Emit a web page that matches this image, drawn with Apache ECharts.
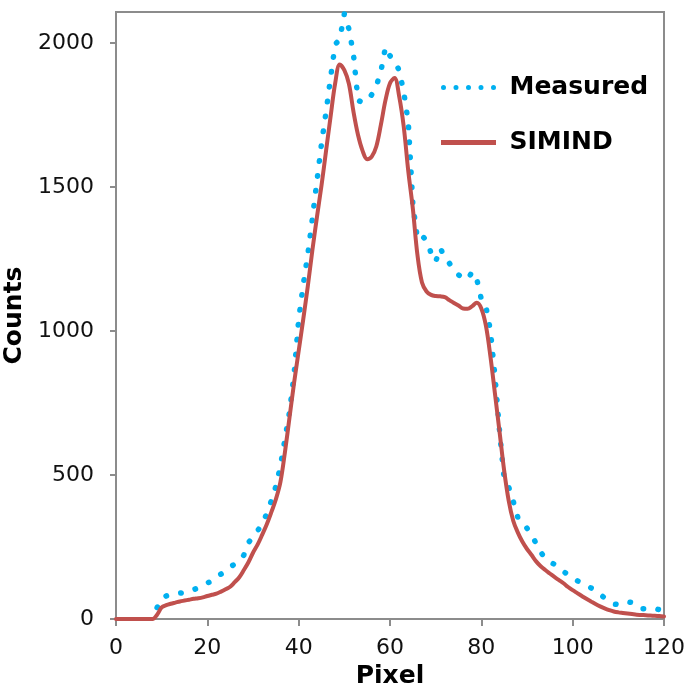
<!DOCTYPE html>
<html>
<head>
<meta charset="utf-8">
<script src="https://cdn.jsdelivr.net/npm/echarts@6/dist/echarts.min.js"></script>
<style>html,body{margin:0;padding:0;background:#fff;}#c{width:688px;height:692px;}</style>
</head>
<body>
<div id="c"></div>
<script>
const pixels = Array.from({length: 121}, (_, i) => i);
const measuredStart = 9;
const measured = [
  40, 70, 80, 85, 88, 90, 91, 95, 102, 108,            // 9-18
  115, 125, 132, 148, 156, 165, 180, 191, 202, 222,    // 19-28
  265, 285, 306, 330, 365, 410, 460, 530, 625, 720,    // 29-38
  850, 1040, 1160, 1265, 1390, 1520, 1650, 1760, 1880, 1995, // 39-48
  2012, 2100, 2048, 1960, 1800, 1793, 1800, 1820, 1850, 1900, // 49-58
  1985, 1955, 1935, 1905, 1830, 1725, 1440, 1320, 1330, 1315, // 59-68
  1270, 1240, 1288, 1255, 1235, 1212, 1195, 1182, 1180, 1205, // 69-78
  1180, 1110, 1085, 1000, 840, 650, 485, 458, 408, 352,  // 79-88
  336, 315, 290, 263, 232, 210, 198, 190, 178, 165,    // 89-98
  153, 140, 133, 124, 118, 108, 100, 86, 73, 62,       // 99-108
  52, 50, 55, 60, 57, 45, 36, 36, 36, 37,              // 109-118
  32, 26                                               // 119-120
];
const simind = [
  0, 0, 0, 0, 0, 0, 0, 0, 0, 15,                       // 0-9
  40, 48, 53, 57, 61, 64, 67, 70, 72, 75,              // 10-19
  80, 84, 88, 95, 103, 112, 128, 145, 170, 197,        // 20-29
  230, 258, 292, 328, 370, 415, 475, 580, 700, 820,    // 30-39
  930, 1040, 1155, 1280, 1395, 1505, 1625, 1745, 1860, 1925, // 40-49
  1905, 1858, 1761, 1680, 1625, 1596, 1605, 1640, 1715, 1800, // 50-59
  1860, 1878, 1815, 1710, 1555, 1425, 1265, 1168, 1137, 1125, // 60-69
  1121, 1120, 1117, 1107, 1097, 1088, 1078, 1077, 1086, 1098, // 70-79
  1078, 1018, 910, 780, 648, 515, 410, 340, 300, 268,  // 80-89
  243, 222, 200, 183, 170, 158, 146, 135, 124, 111,    // 90-99
  100, 90, 80, 70, 61, 52, 44, 37, 31, 26,             // 100-109
  23, 21, 19, 17, 15, 14, 13, 12, 11, 10,              // 110-119
  9                                                    // 120
];
const xTicks = [0, 20, 40, 60, 80, 100, 120];
const yTicks = [0, 500, 1000, 1500, 2000];

const measuredData = measured.map((v, i) => [measuredStart + i, v]);
const simindData = simind.map((v, i) => [pixels[i], v]);

const gray = '#8c8c8c';
const dotsIcon = 'path://M0,3a3,3 0 1,0 6,0a3,3 0 1,0 -6,0z M15,3a3,3 0 1,0 6,0a3,3 0 1,0 -6,0z M30,3a3,3 0 1,0 6,0a3,3 0 1,0 -6,0z M45,3a3,3 0 1,0 6,0a3,3 0 1,0 -6,0z M60,3a3,3 0 1,0 6,0a3,3 0 1,0 -6,0z';
const barIcon = 'path://M0,0h66v6H0z';
const chart = echarts.init(document.getElementById('c'), null, {renderer: 'canvas'});
chart.setOption({
  animation: false,
  backgroundColor: '#ffffff',
  grid: {left: 116, right: 24, top: 12, bottom: 73, containLabel: false, outerBoundsMode: 'none',
         show: true, borderColor: gray, borderWidth: 2},
  legend: {
    orient: 'vertical', left: 436, top: 70, itemWidth: 66, itemHeight: 5, itemGap: 30,
    textStyle: {fontFamily: 'DejaVu Sans', fontWeight: 'bold', fontSize: 25, color: '#000', padding: [0, 0, 0, 3]},
    data: [{name: 'Measured', icon: dotsIcon}, {name: 'SIMIND', icon: barIcon}]
  },
  xAxis: {
    type: 'value', min: 0, max: 120, interval: 20,
    name: 'Pixel', nameLocation: 'middle', nameGap: 42,
    nameTextStyle: {fontFamily: 'DejaVu Sans', fontWeight: 'bold', fontSize: 25, color: '#000'},
    axisLine: {lineStyle: {color: gray, width: 2}},
    axisTick: {show: true, length: 7, lineStyle: {color: gray, width: 2}},
    axisLabel: {fontFamily: 'DejaVu Sans', fontSize: 22, color: '#111', margin: 18, customValues: xTicks},
    splitLine: {show: false}
  },
  yAxis: {
    type: 'value', min: 0, max: 2107, interval: 500,
    name: 'Counts', nameLocation: 'middle', nameGap: 74, nameRotate: 90,
    nameTextStyle: {fontFamily: 'DejaVu Sans', fontWeight: 'bold', fontSize: 25, color: '#000'},
    axisLine: {show: true, lineStyle: {color: gray, width: 2}},
    axisTick: {show: true, length: 6, lineStyle: {color: gray, width: 2}, customValues: yTicks},
    axisLabel: {fontFamily: 'DejaVu Sans', fontSize: 22, color: '#111', margin: 22, customValues: yTicks,
                formatter: v => String(v)},
    splitLine: {show: false}
  },
  series: [
    {
      name: 'Measured', type: 'line', data: measuredData, showSymbol: false, symbol: 'none',
      itemStyle: {color: '#00B0F0'},
      lineStyle: {color: '#00B0F0', width: 5.5, type: [0.5, 14.5], cap: 'round', join: 'round'},
      z: 2
    },
    {
      name: 'SIMIND', type: 'line', data: simindData, showSymbol: false, symbol: 'none', smooth: 0.35,
      itemStyle: {color: '#C0504D'},
      lineStyle: {color: '#C0504D', width: 4, cap: 'round', join: 'round'},
      z: 3
    }
  ]
});
</script>
</body>
</html>
